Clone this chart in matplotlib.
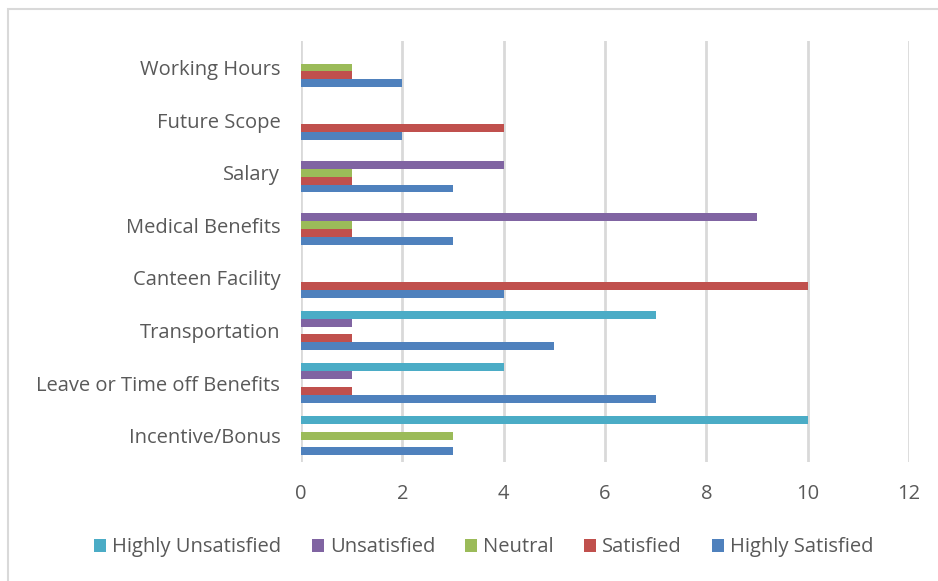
import numpy as np
import matplotlib.pyplot as plt
from matplotlib.patches import Rectangle

plt.rcParams['font.family'] = ['Open Sans', 'DejaVu Sans']

categories = ['Incentive/Bonus', 'Leave or Time off Benefits', 'Transportation',
              'Canteen Facility', 'Medical Benefits', 'Salary', 'Future Scope',
              'Working Hours']
highly_satisfied = [3, 7, 5, 4, 3, 3, 2, 2]
satisfied = [0, 1, 1, 10, 1, 1, 4, 1]
neutral = [3, 0, 0, 0, 1, 1, 0, 1]
unsatisfied = [0, 1, 1, 0, 9, 4, 0, 0]
highly_unsatisfied = [10, 4, 7, 0, 0, 0, 0, 0]

# bottom-to-top order within each group
series = [
    ('Highly Satisfied', highly_satisfied, '#4F81BD'),
    ('Satisfied', satisfied, '#C0504D'),
    ('Neutral', neutral, '#9BBB59'),
    ('Unsatisfied', unsatisfied, '#8064A2'),
    ('Highly Unsatisfied', highly_unsatisfied, '#4BACC6'),
]

fig = plt.figure(figsize=(9.38, 5.81), dpi=100)
ax = fig.add_axes([0.321, 0.205, 0.648, 0.724])

y = np.arange(len(categories))
h = 0.15
bars = {}
for i, (name, vals, col) in enumerate(series):
    bars[name] = ax.barh(y + (i - 2) * h, vals, height=h, color=col, label=name, zorder=3)

ax.set_xlim(0, 12)
ax.set_ylim(-0.5, len(categories) - 0.5)
ax.set_xticks(range(0, 13, 2))
ax.set_yticks(y)
ax.set_yticklabels(categories)
ax.grid(axis='x', color='#D9D9D9', linewidth=2, zorder=0)
for s in ax.spines.values():
    s.set_visible(False)
ax.tick_params(length=0, labelsize=14.5, colors='#595959')
ax.tick_params(axis='y', pad=15)
ax.tick_params(axis='x', pad=16)

order = ['Highly Unsatisfied', 'Unsatisfied', 'Neutral', 'Satisfied', 'Highly Satisfied']
leg = fig.legend([bars[n] for n in order], order, loc='center', bbox_to_anchor=(0.516, 0.058),
                 ncol=5, frameon=False, fontsize=14.5, handlelength=0.6, handleheight=0.6,
                 handletextpad=0.3, columnspacing=1.5)
for t in leg.get_texts():
    t.set_color('#595959')

fig.patches.append(Rectangle((0.0085, -0.05), 1.1, 1.0345, transform=fig.transFigure,
                             fill=False, edgecolor='#D9D9D9', linewidth=1.5))

plt.savefig('out.png')
